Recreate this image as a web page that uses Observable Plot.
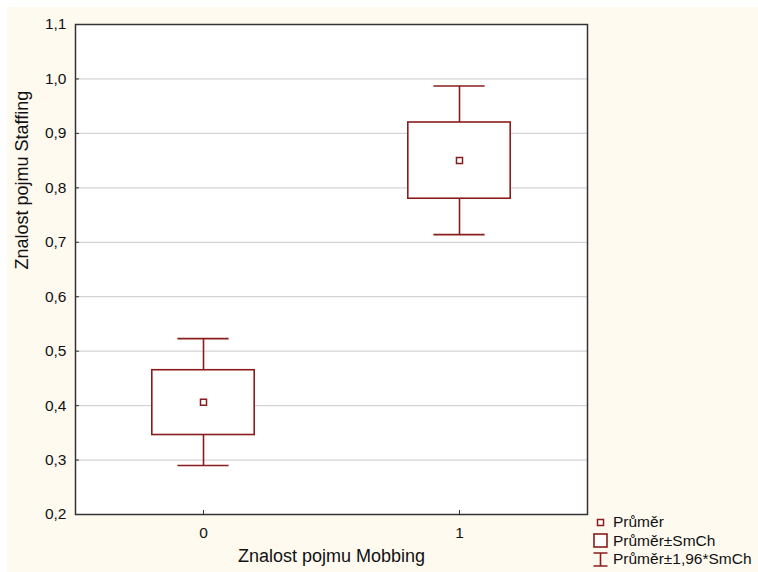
<!DOCTYPE html>
<html>
<head>
<meta charset="utf-8">
<script src="https://cdn.jsdelivr.net/npm/d3@7"></script>
<script src="https://cdn.jsdelivr.net/npm/@observablehq/plot@0.6"></script>
<style>
  html, body { margin: 0; padding: 0; background: #ffffff; }
  #wrap { position: relative; width: 758px; height: 572px; overflow: hidden; }
  #chart { position: absolute; left: 7px; top: 7px; }
  #chart svg { background: #fffaf0; display: block; font-family: "Liberation Sans", Arial, sans-serif; }
  #legend { position: absolute; left: 593px; top: 513px; font-family: "Liberation Sans", Arial, sans-serif; font-size: 15.5px; color: #111; line-height: 18.5px; }
  #legend .row { display: flex; align-items: center; height: 18.5px; white-space: nowrap; }
  #legend svg { width: 15px; height: 15px; margin-right: 5px; flex: none; }
</style>
</head>
<body>
<div id="wrap">
  <div id="chart"></div>
  <div id="legend"></div>
</div>
<script>
// Data
const categories = [0, 1];
const means      = [0.406, 0.850];
const boxLow     = [0.346, 0.780];
const boxHigh    = [0.465, 0.920];
const whiskLow   = [0.290, 0.714];
const whiskHigh  = [0.523, 0.987];
const yTicks     = [0.2, 0.3, 0.4, 0.5, 0.6, 0.7, 0.8, 0.9, 1.0, 1.1];
const xTicks     = [0, 1];
const xLabel = "Znalost pojmu Mobbing";
const yLabel = "Znalost pojmu Staffing";
const legendLabels = ["Průměr", "Průměr±SmCh", "Průměr±1,96*SmCh"];

const red = "#8b1c1c";
const boxHalf = 0.2, capHalf = 0.1;

const rows = categories.map((c, i) => ({
  c, mean: means[i], lo: boxLow[i], hi: boxHigh[i], wlo: whiskLow[i], whi: whiskHigh[i]
}));

const fmt = d => d.toFixed(1).replace(".", ",");

const chart = Plot.plot({
  width: 751,
  height: 565,
  marginLeft: 68,
  marginRight: 171,
  marginTop: 17,
  marginBottom: 58,
  style: { background: "#fffaf0", color: "#111", fontFamily: "'Liberation Sans', Arial, sans-serif" },
  x: { type: "linear", domain: [-0.5, 1.5] },
  y: { domain: [0.2, 1.1] },
  marks: [
    Plot.frame({ fill: "white", stroke: "none" }),
    Plot.gridY(yTicks, { stroke: "#d4d4d4", strokeOpacity: 1, strokeWidth: 1.2 }),
    // whiskers
    Plot.ruleX(rows, { x: "c", y1: "hi", y2: "whi", stroke: red, strokeWidth: 1.6 }),
    Plot.ruleX(rows, { x: "c", y1: "lo", y2: "wlo", stroke: red, strokeWidth: 1.6 }),
    Plot.ruleY(rows, { y: "whi", x1: d => d.c - capHalf, x2: d => d.c + capHalf, stroke: red, strokeWidth: 1.6 }),
    Plot.ruleY(rows, { y: "wlo", x1: d => d.c - capHalf, x2: d => d.c + capHalf, stroke: red, strokeWidth: 1.6 }),
    // boxes
    Plot.rect(rows, { x1: d => d.c - boxHalf, x2: d => d.c + boxHalf, y1: "lo", y2: "hi", fill: "white", stroke: red, strokeWidth: 1.6 }),
    // means
    Plot.dot(rows, { x: "c", y: "mean", symbol: "square", r: 3.4, fill: "white", stroke: red, strokeWidth: 1.5 }),
    // axes
    Plot.axisY(yTicks, { tickSize: 0, tickPadding: 9, tickFormat: fmt, fontSize: 15.5, label: null }),
    Plot.axisY(yTicks, { tickSize: -4, tickFormat: () => "", label: null, stroke: "#333" }),
    Plot.axisX(xTicks, { tickSize: 0, tickPadding: 12, tickFormat: d => String(d), fontSize: 15.5, label: null }),
    Plot.axisX(xTicks, { tickSize: -4, tickFormat: () => "", label: null, stroke: "#333" }),
    Plot.frame({ stroke: "#333", strokeWidth: 1.5 }),
    Plot.text([yLabel], { frameAnchor: "left", dx: -53, rotate: -90, fontSize: 18, fill: "#111" }),
    Plot.text([xLabel], { frameAnchor: "bottom", dy: 47, fontSize: 18, fill: "#111" })
  ]
});
document.getElementById("chart").appendChild(chart);

// Legend
const icons = [
  `<svg viewBox="0 0 15 15"><rect x="4.5" y="4.5" width="6" height="6" fill="white" stroke="${red}" stroke-width="1.5"/></svg>`,
  `<svg viewBox="0 0 15 15"><rect x="1" y="1" width="13" height="13" fill="white" stroke="${red}" stroke-width="1.6"/></svg>`,
  `<svg viewBox="0 0 15 15"><path d="M0.5 1H14.5M7.5 1V14M0.5 14H14.5" fill="none" stroke="${red}" stroke-width="1.6"/></svg>`
];
const leg = document.getElementById("legend");
legendLabels.forEach((t, i) => {
  const r = document.createElement("div");
  r.className = "row";
  r.innerHTML = icons[i] + `<span>${t}</span>`;
  leg.appendChild(r);
});
</script>
</body>
</html>
